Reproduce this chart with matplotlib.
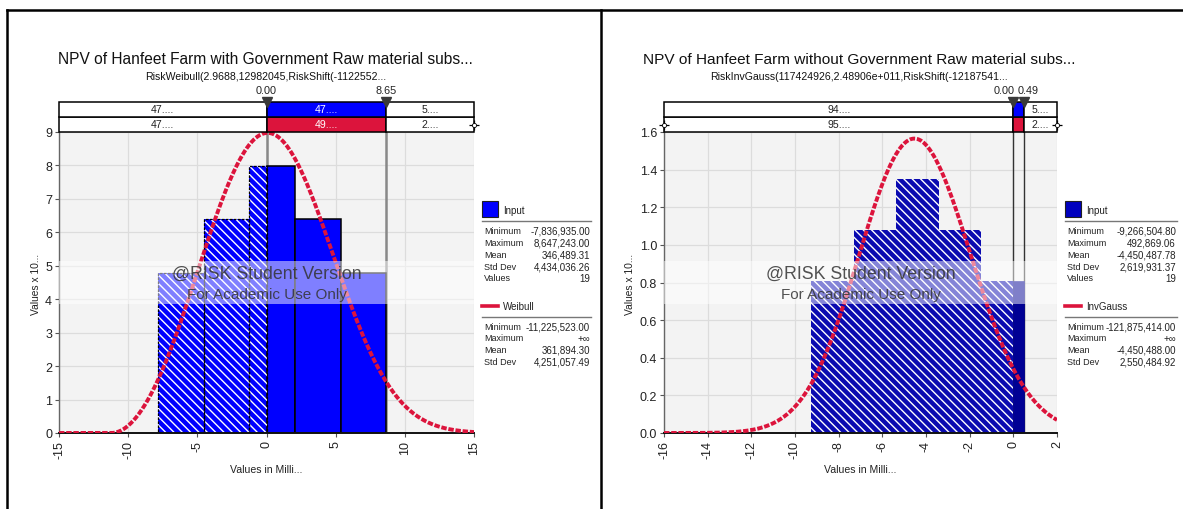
import numpy as np
import matplotlib
matplotlib.use("Agg")
import matplotlib.pyplot as plt
from matplotlib.patches import Rectangle
from matplotlib.lines import Line2D

plt.rcParams['font.family'] = ['Liberation Sans', 'DejaVu Sans']
plt.rcParams['hatch.linewidth'] = 1.0

W, H, DPI = 1183, 510, 100

# ---------------- data: left panel (with subsidy) ----------------
left_title = "NPV of Hanfeet Farm with Government Raw material subs..."
left_subtitle = "RiskWeibull(2.9688,12982045,RiskShift(-1122552..."
left_counts = [3, 4, 5, 4, 3]
left_min = -7.836935          # millions
left_max = 8.647243
left_n = 19
left_marks = [0.00, 8.65]
left_mark_labels = ["0.00", "8.65"]
left_band_top = ["47....", "47....", "5...."]
left_band_bottom = ["47....", "49....", "2...."]
left_xticks = [-15, -10, -5, 0, 5, 10, 15]
left_yticks = [0, 1, 2, 3, 4, 5, 6, 7, 8, 9]
left_fit_name = "Weibull"
left_input_stats = [("Minimum", "-7,836,935.00"), ("Maximum", "8,647,243.00"),
                    ("Mean", "346,489.31"), ("Std Dev", "4,434,036.26"),
                    ("Values", "19")]
left_fit_stats = [("Minimum", "-11,225,523.00"), ("Maximum", "+\u221e"),
                  ("Mean", "361,894.30"), ("Std Dev", "4,251,057.49")]
weibull_shape = 2.9688
weibull_scale = 12.982045     # millions
weibull_shift = -11.225523    # millions

# ---------------- data: right panel (without subsidy) ----------------
right_title = "NPV of Hanfeet Farm without Government Raw material subs..."
right_subtitle = "RiskInvGauss(117424926,2.48906e+011,RiskShift(-12187541..."
right_counts = [3, 4, 5, 4, 3]
right_min = -9.2665048
right_max = 0.49286906
right_n = 19
right_marks = [0.00, 0.49]
right_mark_labels = ["0.00", "0.49"]
right_band_top = ["94....", "", "5...."]
right_band_bottom = ["95....", "", "2...."]
right_xticks = [-16, -14, -12, -10, -8, -6, -4, -2, 0, 2]
right_yticks = [0.0, 0.2, 0.4, 0.6, 0.8, 1.0, 1.2, 1.4, 1.6]
right_fit_name = "InvGauss"
right_input_stats = [("Minimum", "-9,266,504.80"), ("Maximum", "492,869.06"),
                     ("Mean", "-4,450,487.78"), ("Std Dev", "2,619,931.37"),
                     ("Values", "19")]
right_fit_stats = [("Minimum", "-121,875,414.00"), ("Maximum", "+\u221e"),
                   ("Mean", "-4,450,488.00"), ("Std Dev", "2,550,484.92")]
invgauss_mu = 117.424926      # millions
invgauss_lambda = 248906.0    # 2.48906e+011 expressed in millions
invgauss_shift = -121.875414  # millions

CRIMSON = "#DC143C"
HATCH = "\\" * 4


def frac(x0, y0, x1, y1):
    """pixel box (top-left origin) -> figure fraction rect"""
    return [x0 / W, 1 - y1 / H, (x1 - x0) / W, (y1 - y0) / H]


def weibull_pdf(x):
    z = (x - weibull_shift) / weibull_scale
    out = np.zeros_like(x)
    m = z > 0
    k = weibull_shape
    out[m] = k / weibull_scale * z[m] ** (k - 1) * np.exp(-z[m] ** k)
    return out


def invgauss_pdf(x):
    t = x - invgauss_shift
    out = np.zeros_like(x)
    m = t > 0
    mu, lam = invgauss_mu, invgauss_lambda
    out[m] = np.sqrt(lam / (2 * np.pi * t[m] ** 3)) * np.exp(-lam * (t[m] - mu) ** 2 / (2 * mu ** 2 * t[m]))
    return out


fig = plt.figure(figsize=(W / DPI, H / DPI), dpi=DPI)
fig.patch.set_facecolor("white")


def px_text(x, y, s, **kw):
    fig.text(x / W, 1 - y / H, s, **kw)


def draw_panel(box, band_box, xlim, ylim, xticks, yticks, ytickfmt,
               counts, vmin, vmax, n, unit, marks, mark_labels, mark_offsets,
               band_top, band_bottom, handles, hatch_face, solid_face,
               outline, fit_pdf, mark_line_color, mark_line_w):
    ax = fig.add_axes(frac(*box))
    ax.set_facecolor("#F3F3F3")
    ax.set_xlim(*xlim)
    ax.set_ylim(*ylim)
    ax.set_xticks(xticks)
    ax.set_yticks(yticks)
    ax.set_xticklabels([str(t) for t in xticks], rotation=90, fontsize=9, color="#222222")
    ax.set_yticklabels([ytickfmt(t) for t in yticks], fontsize=9, color="#222222")
    ax.tick_params(axis="both", length=3, width=0.8, color="#555555", pad=2)
    ax.grid(True, color="#DCDCDC", linewidth=0.9, zorder=0)
    ax.set_axisbelow(True)
    for s in ("top", "right"):
        ax.spines[s].set_visible(False)
    ax.spines["left"].set_color("#666666")
    ax.spines["left"].set_linewidth(1.0)
    ax.spines["bottom"].set_color("#111111")
    ax.spines["bottom"].set_linewidth(1.4)

    # histogram as density (values x unit)
    edges = np.linspace(vmin, vmax, len(counts) + 1)
    width_m = edges[1] - edges[0]
    heights = np.asarray(counts) / (n * width_m * 1e6) / unit
    lo, hi = marks
    for a, b, h in zip(edges[:-1], edges[1:], heights):
        pieces = []
        if a < lo:
            pieces.append((a, min(b, lo), False))
        if b > lo and a < hi:
            pieces.append((max(a, lo), min(b, hi), True))
        if b > hi:
            pieces.append((max(a, hi), b, False))
        for p0, p1, solid in pieces:
            if solid:
                ax.bar(p0, h, width=p1 - p0, align="edge", color=solid_face,
                       edgecolor="black" if outline else solid_face,
                       linewidth=1.1 if outline else 0.5, zorder=2)
            else:
                ax.bar(p0, h, width=p1 - p0, align="edge", color=hatch_face,
                       edgecolor="none", linewidth=0, zorder=2)
                ax.bar(p0, h, width=p1 - p0, align="edge", color="none",
                       edgecolor="white", hatch=HATCH, linewidth=0, zorder=2.1)
                if outline:
                    ax.bar(p0, h, width=p1 - p0, align="edge", color="none",
                           edgecolor="black", linewidth=0.9,
                           linestyle=(0, (2, 1.2)), zorder=2.2)

    # marker lines
    for m in marks:
        ax.axvline(m, color=mark_line_color, linewidth=mark_line_w, zorder=1.5)

    # fitted curve
    xs = np.linspace(xlim[0], xlim[1], 800)
    ys = fit_pdf(xs) / 1e6 / unit
    ax.plot(xs, ys, color=CRIMSON, linewidth=2.8, linestyle=(0, (1.4, 0.45)),
            zorder=4, solid_capstyle="butt")

    # student watermark
    y_lo = (box[3] - 305) / (box[3] - box[1])
    y_hi = (box[3] - 262) / (box[3] - box[1])
    ax.add_patch(Rectangle((0, y_lo), 1, y_hi - y_lo, transform=ax.transAxes,
                           facecolor="white", alpha=0.5, edgecolor="none", zorder=6))
    ax.text(0.5, (box[3] - 274) / (box[3] - box[1]), "@RISK Student Version",
            transform=ax.transAxes, ha="center", va="center", fontsize=12.8,
            color="#333333", alpha=0.85, zorder=7)
    ax.text(0.5, (box[3] - 295) / (box[3] - box[1]), "For Academic Use Only",
            transform=ax.transAxes, ha="center", va="center", fontsize=11,
            color="#333333", alpha=0.85, zorder=7)

    # percentile band above the plot
    bx = fig.add_axes(frac(*band_box))
    bx.set_xlim(*xlim)
    bx.set_ylim(0, 2)
    bx.axis("off")
    cuts = [xlim[0], lo, hi, xlim[1]]
    mid_colors = ["#0000FF", CRIMSON]
    for row, labels in enumerate([band_bottom, band_top]):
        yb = row
        for i in range(3):
            fc = mid_colors[1 - row] if i == 1 else "white"
            bx.add_patch(Rectangle((cuts[i], yb), cuts[i + 1] - cuts[i], 1,
                                   facecolor=fc, edgecolor="black", linewidth=1.1,
                                   clip_on=False))
            if labels[i]:
                bx.text((cuts[i] + cuts[i + 1]) / 2, yb + 0.5, labels[i],
                        ha="center", va="center", fontsize=7.6,
                        color="white" if i == 1 else "#222222")
    for hx in handles:
        bx.plot([hx], [0.5], marker="+", color="black", markersize=7,
                markeredgewidth=0.9, clip_on=False, zorder=5)
        bx.plot([hx], [0.5], marker="o", color="white", markeredgecolor="black",
                markersize=3, markeredgewidth=0.6, clip_on=False, zorder=6)
    for m, lab, off in zip(marks, mark_labels, mark_offsets):
        bx.plot([m], [2.0], marker="v", color="#3A3A3A", markersize=7,
                clip_on=False, zorder=6)
        bx.annotate(lab, xy=(m, 2.0), xytext=(off, 7), textcoords="offset pixels",
                    ha="center", va="bottom", fontsize=7.8, color="#222222",
                    annotation_clip=False)
    return ax


def draw_legend(x0, x1, fit_name, input_color, input_stats, fit_stats):
    fs_lab, fs_val = 6.5, 7.0
    fig.add_artist(Rectangle((x0 / W, 1 - 218 / H), 16 / W, 16 / H,
                             transform=fig.transFigure, facecolor=input_color,
                             edgecolor="#202020", linewidth=0.8))
    px_text(x0 + 21, 211, "Input", fontsize=fs_val, va="center", color="#222222")
    fig.add_artist(Line2D([x0 / W, x1 / W], [1 - 222 / H] * 2,
                          transform=fig.transFigure, color="#777777", linewidth=1.0))
    for i, (k, v) in enumerate(input_stats):
        y = 232 + i * 11.7
        px_text(x0 + 2, y, k, fontsize=fs_lab, va="center", color="#222222")
        px_text(x1 - 1, y, v, fontsize=fs_val, va="center", ha="right", color="#222222")
    fig.add_artist(Line2D([x0 / W, (x0 + 16) / W], [1 - 307 / H] * 2,
                          transform=fig.transFigure, color=CRIMSON, linewidth=2.6))
    px_text(x0 + 21, 307, fit_name, fontsize=fs_val, va="center", color="#222222")
    fig.add_artist(Line2D([x0 / W, x1 / W], [1 - 318 / H] * 2,
                          transform=fig.transFigure, color="#777777", linewidth=1.0))
    for i, (k, v) in enumerate(fit_stats):
        y = 327 + i * 11.7
        px_text(x0 + 2, y, k, fontsize=fs_lab, va="center", color="#222222")
        px_text(x1 - 1, y, v, fontsize=fs_val, va="center", ha="right", color="#222222")


# ---------------- left panel ----------------
draw_panel((59, 133, 474, 434), (59, 103, 474, 133), (-15, 15), (0, 9),
           left_xticks, left_yticks, lambda t: f"{t:d}",
           left_counts, left_min, left_max, left_n, 1e-8,
           left_marks, left_mark_labels, [0, 0],
           left_band_top, left_band_bottom, [15], "#0000FF", "#0000FF",
           True, weibull_pdf, "#888888", 1.8)
px_text(265, 60, left_title, fontsize=11.2, ha="center", va="center", color="#111111")
px_text(266, 77, left_subtitle, fontsize=7.6, ha="center", va="center", color="#111111")
px_text(36, 284, "Values x 10...", fontsize=7.4, rotation=90, ha="center", va="center", color="#222222")
px_text(266, 470, "Values in Milli...", fontsize=7.6, ha="center", va="center", color="#222222")
draw_legend(482, 591, left_fit_name, "#0000FF", left_input_stats, left_fit_stats)

# ---------------- right panel ----------------
draw_panel((664, 133, 1057, 434), (664, 103, 1057, 133), (-16, 2), (0, 1.6),
           right_xticks, right_yticks, lambda t: f"{t:.1f}",
           right_counts, right_min, right_max, right_n, 1e-7,
           right_marks, right_mark_labels, [-9, 4],
           right_band_top, right_band_bottom, [-16, 2], "#0A0AB0", "#000094",
           False, invgauss_pdf, "#333333", 1.0)
px_text(859, 60, right_title, fontsize=11.1, ha="center", va="center", color="#111111")
px_text(859, 77, right_subtitle, fontsize=7.6, ha="center", va="center", color="#111111")
px_text(630, 284, "Values x 10...", fontsize=7.4, rotation=90, ha="center", va="center", color="#222222")
px_text(860, 470, "Values in Milli...", fontsize=7.6, ha="center", va="center", color="#222222")
draw_legend(1065, 1177, right_fit_name, "#0000BE", right_input_stats, right_fit_stats)

# ---------------- frame lines ----------------
for xs_, ys_ in [([7, W], [11, 11]), ([7, 7], [11, H]), ([601, 601], [11, H])]:
    fig.add_artist(Line2D([x / W for x in xs_], [1 - y / H for y in ys_],
                          transform=fig.transFigure, color="black", linewidth=1.8))

fig.savefig("out.png", dpi=DPI, facecolor="white")
